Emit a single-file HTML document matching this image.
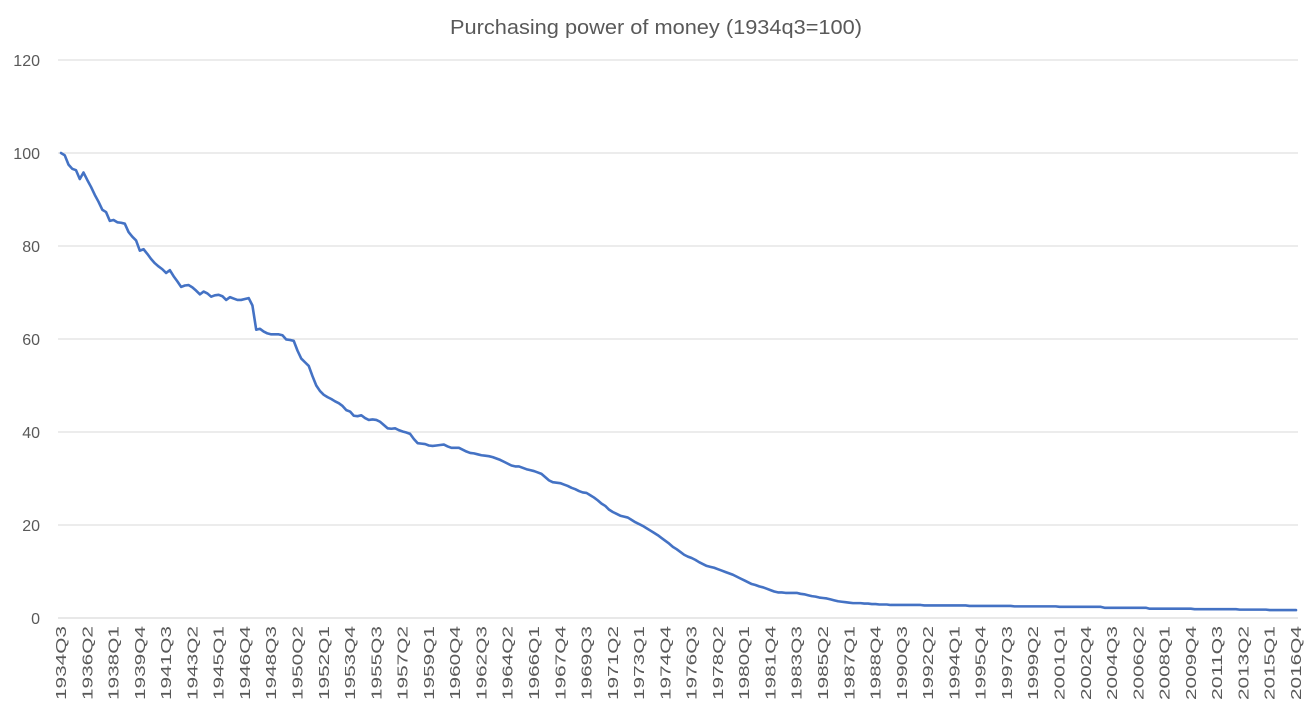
<!DOCTYPE html>
<html><head><meta charset="utf-8"><style>
body{margin:0;background:#fff;}
svg{display:block;font-family:"Liberation Sans",sans-serif;}
</style></head><body>
<svg id="chart" width="1312" height="705">
<rect width="1312" height="705" fill="#fff"/>
<text x="656" y="34" text-anchor="middle" font-size="20" fill="#595959" textLength="412" lengthAdjust="spacingAndGlyphs">Purchasing power of money (1934q3=100)</text>
<g id="grid"></g><g id="yticks"></g><g id="xticks"></g><g id="series"></g>
</svg>
<script>
const values = [100,99.5,97.5,96.6,96.3,94.4,95.8,94.2,92.7,91,89.5,87.8,87.3,85.4,85.6,85.1,85,84.8,83,82,81.2,79,79.3,78.3,77.2,76.3,75.6,75,74.2,74.8,
73.5,72.4,71.2,71.5,71.6,71.1,70.4,69.6,70.2,69.8,69.1,69.4,69.5,69.2,68.4,69,68.7,68.4,68.4,68.6,68.8,67.2,62,62.2,61.6,61.2,61,61,61,60.8,
59.9,59.8,59.6,57.5,55.8,55,54.2,52,50,48.8,48,47.5,47.1,46.6,46.2,45.6,44.7,44.4,43.5,43.4,43.6,43,42.6,42.7,42.6,42.2,41.5,40.8,40.7,40.8,
40.4,40.1,39.9,39.6,38.5,37.6,37.5,37.4,37.1,37,37.1,37.2,37.3,36.9,36.6,36.6,36.6,36.2,35.8,35.5,35.4,35.2,35,34.9,34.8,34.6,34.3,34,33.6,33.2,
32.8,32.6,32.6,32.3,32,31.8,31.6,31.3,31,30.3,29.6,29.2,29.1,29,28.7,28.4,28,27.7,27.3,27,26.9,26.4,25.9,25.3,24.6,24.1,23.3,22.8,22.4,22,
21.8,21.6,21.1,20.6,20.2,19.8,19.3,18.8,18.3,17.8,17.2,16.6,16,15.3,14.8,14.2,13.6,13.2,12.9,12.5,12,11.6,11.2,11,10.8,10.5,10.2,9.9,9.6,9.3,
8.9,8.5,8.1,7.7,7.3,7.1,6.8,6.6,6.3,6,5.7,5.5,5.5,5.4,5.4,5.4,5.4,5.2,5.1,4.9,4.7,4.6,4.4,4.3,4.2,4,3.8,3.6,3.5,3.4,3.3,3.2,3.2,3.2,3.1,3.1,3,3,
2.9,2.9,2.9,2.8,2.8,2.8,2.8,2.8,2.8,2.8,2.8,2.8,2.7,2.7,2.7,2.7,2.7,2.7,2.7,2.7,2.7,2.7,2.7,2.7,2.6,2.6,2.6,2.6,2.6,2.6,2.6,2.6,2.6,2.6,2.6,2.6,
2.5,2.5,2.5,2.5,2.5,2.5,2.5,2.5,2.5,2.5,2.5,2.5,2.4,2.4,2.4,2.4,2.4,2.4,2.4,2.4,2.4,2.4,2.4,2.4,2.2,2.2,2.2,2.2,2.2,2.2,2.2,2.2,2.2,2.2,2.2,2.2,
2,2,2,2,2,2,2,2,2,2,2,2,1.9,1.9,1.9,1.9,1.9,1.9,1.9,1.9,1.9,1.9,1.9,1.9,1.8,1.8,1.8,1.8,1.8,1.8,1.8,1.8,1.7,1.7,1.7,1.7,1.7,1.7,1.7,1.7];
const yTicks = [0,20,40,60,80,100,120];
const startYear = 1934, startQuarter = 3, labelEvery = 7;
const categories = [];
for (let i = 0; i < values.length; i++) {
  const q = startQuarter - 1 + i;
  categories.push((startYear + Math.floor(q / 4)) + 'Q' + (q % 4 + 1));
}
const NS = 'http://www.w3.org/2000/svg';
const x0 = 61, x1 = 1296, yTop = 60, yBot = 618, yMax = 120;
const xs = i => x0 + (x1 - x0) * i / (values.length - 1);
const ys = v => yBot - (yBot - yTop) * v / yMax;
function mk(tag, attrs, parent) { const e = document.createElementNS(NS, tag); for (const k in attrs) e.setAttribute(k, attrs[k]); parent.appendChild(e); return e; }
const grid = document.getElementById('grid'), yt = document.getElementById('yticks'), xt = document.getElementById('xticks'), ser = document.getElementById('series');
yTicks.forEach(t => {
  const l = mk('line', {x1: 58, x2: 1298, y1: ys(t), y2: ys(t), stroke: t === 0 ? '#d0d0d0' : '#d9d9d9', 'stroke-width': 1}, grid);
  
  
  const tx = mk('text', {x: 40, y: ys(t) + 6, 'text-anchor': 'end', 'font-size': 16, fill: '#595959'}, yt);
  tx.textContent = t;
  
  
});
categories.forEach((c, i) => {
  if (i % labelEvery !== 0) return;
  const x = xs(i);
  const tx = mk('text', {x: 0, y: 0, 'text-anchor': 'end', 'font-size': 15, fill: '#595959', textLength: 74, lengthAdjust: 'spacingAndGlyphs', transform: `translate(${x + 5},626) rotate(-90)`}, xt);
  tx.textContent = c;
  
  
});
const d = values.map((v, i) => (i ? 'L' : 'M') + xs(i).toFixed(2) + ',' + ys(v).toFixed(2)).join('');
const p = mk('path', {d: d, fill: 'none', stroke: '#4472c4', 'stroke-width': 2.6, 'stroke-linejoin': 'round', 'stroke-linecap': 'round'}, ser);


</script>
</body></html>
